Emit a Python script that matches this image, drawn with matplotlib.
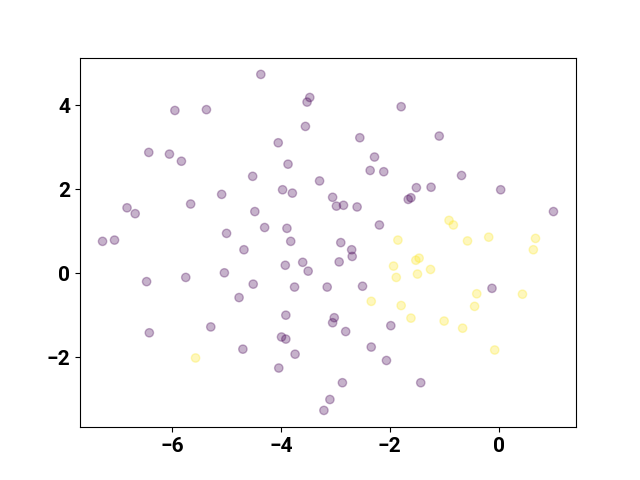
import matplotlib
matplotlib.use("Agg")
import matplotlib.pyplot as plt
import numpy as np

# class 0 (purple)
x0 = [-5.95, -5.37, -6.43, -6.05, -5.83, -5.09, -6.83, -6.68, -5.66, -5.00,
      -7.28, -7.06, -4.37, -3.47, -3.52, -1.79, -3.55, -4.05, -2.55, -3.87,
      -2.28, -4.52, -2.36, -2.11, -3.29, -3.97, -3.79, -3.05, -2.98, -2.85,
      -2.60, -4.48, -1.66, -1.61, -4.30, -3.89, -2.19, -3.82, -2.90, -1.09,
      -0.68, -1.51, -1.24, 0.04, 1.01, -4.68, -6.47, -5.75, -5.04, -4.77,
      -6.42, -5.29, -4.70, -2.70, -2.69, -3.92, -3.60, -3.50, -2.93, -4.51,
      -3.75, -3.15, -2.50, -3.91, -3.02, -3.05, -2.81, -1.98, -3.99, -3.91,
      -3.74, -2.34, -2.06, -4.04, -2.87, -3.10, -3.21, -0.12, -1.43]
y0 = [3.88, 3.90, 2.88, 2.84, 2.67, 1.88, 1.56, 1.42, 1.65, 0.95,
      0.76, 0.79, 4.74, 4.19, 4.08, 3.97, 3.50, 3.11, 3.23, 2.60,
      2.77, 2.31, 2.45, 2.42, 2.20, 1.99, 1.91, 1.81, 1.60, 1.62,
      1.58, 1.47, 1.76, 1.80, 1.09, 1.07, 1.15, 0.76, 0.73, 3.27,
      2.33, 2.04, 2.05, 1.99, 1.47, 0.56, -0.20, -0.10, 0.01, -0.58,
      -1.42, -1.28, -1.81, 0.56, 0.40, 0.19, 0.26, 0.05, 0.27, -0.26,
      -0.33, -0.33, -0.31, -1.00, -1.06, -1.18, -1.39, -1.25, -1.52, -1.57,
      -1.93, -1.76, -2.08, -2.26, -2.61, -3.01, -3.27, -0.36, -2.61]

# class 1 (yellow)
x1 = [-1.85, -0.91, -0.83, -0.57, -0.18, 0.68, 0.64, -5.57, -1.93, -1.88,
      -2.34, -1.79, -1.61, -1.52, -1.46, -1.25, -1.49, -0.40, 0.44, -0.44,
      -1.00, -0.66, -0.07]
y1 = [0.79, 1.26, 1.15, 0.77, 0.86, 0.83, 0.56, -2.02, 0.17, -0.10,
      -0.67, -0.77, -1.07, 0.31, 0.36, 0.09, -0.02, -0.49, -0.50, -0.79,
      -1.14, -1.31, -1.83]

X = np.array(x0 + x1)
Y = np.array(y0 + y1)
labels = np.array([0] * len(x0) + [1] * len(x1))

plt.rcParams['font.family'] = ['Roboto', 'DejaVu Sans']

fig, ax = plt.subplots(figsize=(6.4, 4.8), dpi=100)
ax.scatter(X, Y, c=labels, cmap='viridis', alpha=0.3)
ax.tick_params(labelsize=15)
for lbl in ax.get_xticklabels() + ax.get_yticklabels():
    lbl.set_fontweight('bold')

fig.savefig('out.png', dpi=100)
